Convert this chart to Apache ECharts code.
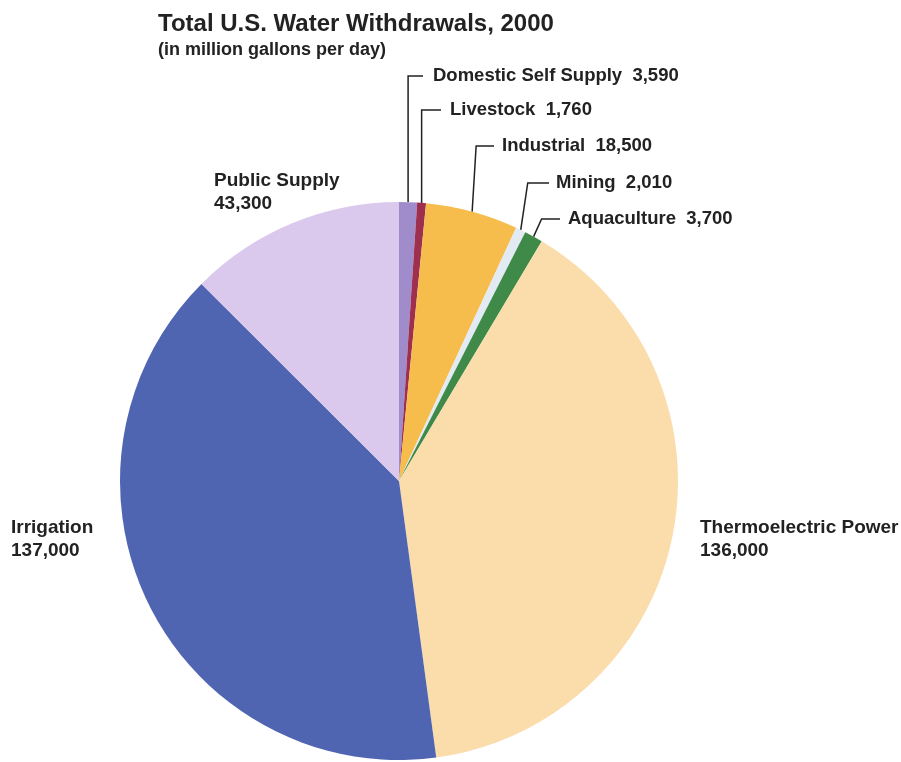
<!DOCTYPE html>
<html>
<head>
<meta charset="utf-8">
<script src="https://cdn.jsdelivr.net/npm/echarts@6/dist/echarts.min.js"></script>
<style>
  html, body { margin: 0; padding: 0; background: #ffffff; }
  #chart { width: 901px; height: 762px; }
</style>
</head>
<body>
<div id="chart"></div>
<script>
// Water withdrawal categories, clockwise from 12 o'clock
const categories = [
  'Domestic Self Supply', 'Livestock', 'Industrial', 'Mining',
  'Aquaculture', 'Thermoelectric Power', 'Irrigation', 'Public Supply'
];
// Million gallons per day
const withdrawals = [3590, 1760, 18500, 2010, 3700, 136000, 137000, 43300];

const sliceColors = {
  'Domestic Self Supply': '#a18ccb',
  'Livestock': '#9e2f4e',
  'Industrial': '#f6bd4d',
  'Mining': '#e2ebf4',
  'Aquaculture': '#3f8a49',
  'Thermoelectric Power': '#fbdcab',
  'Irrigation': '#5065b2',
  'Public Supply': '#dac8ed'
};

// Label placement: small slices get elbow leader lines, large ones sit beside the pie
const calloutLayout = {
  'Domestic Self Supply': { x: 433, y: 76, dx: 0, end: 423 },
  'Livestock':            { x: 450, y: 110, dx: 0, end: 441 },
  'Industrial':           { x: 502, y: 146, dx: 4, end: 494 },
  'Mining':               { x: 556, y: 183, dx: 7, end: 549 },
  'Aquaculture':          { x: 568, y: 219, dx: 8, end: 560 }
};
const blockLayout = {
  'Public Supply':        { x: 214, y: 169 },
  'Irrigation':           { x: 11, y: 516 },
  'Thermoelectric Power': { x: 700, y: 516 }
};

const FONT = 'Liberation Sans, Arial, Helvetica, sans-serif';
const fmt = v => v.toLocaleString('en-US');

const pieData = categories.map((name, i) => {
  const callout = !!calloutLayout[name];
  return {
    name: name,
    value: withdrawals[i],
    itemStyle: { color: sliceColors[name] },
    label: callout
      ? { formatter: name + '  ' + fmt(withdrawals[i]), fontSize: 18.5 }
      : { formatter: name + '\n' + fmt(withdrawals[i]), fontSize: 19 },
    labelLine: { show: callout }
  };
});

const chart = echarts.init(document.getElementById('chart'), null, { renderer: 'canvas' });

chart.setOption({
  backgroundColor: '#ffffff',
  animation: false,
  title: {
    text: 'Total U.S. Water Withdrawals, 2000',
    subtext: '(in million gallons per day)',
    left: 153,
    top: 7,
    itemGap: 5,
    textStyle: {
      fontFamily: FONT,
      fontSize: 24,
      fontWeight: 'bold',
      color: '#222222'
    },
    subtextStyle: {
      fontFamily: FONT,
      fontSize: 18,
      fontWeight: 'bold',
      color: '#222222'
    }
  },
  series: [{
    type: 'pie',
    center: [399, 481],
    radius: [0, 279],
    startAngle: 90,
    clockwise: true,
    avoidLabelOverlap: false,
    data: pieData,
    itemStyle: { borderWidth: 0 },
    label: {
      show: true,
      position: 'outside',
      fontFamily: FONT,
      fontSize: 18.5,
      fontWeight: 'bold',
      color: '#222222',
      lineHeight: 23
    },
    labelLine: {
      show: true,
      length: 10,
      length2: 10,
      lineStyle: { color: '#222222', width: 1.5 }
    },
    labelLayout: function (params) {
      const name = categories[params.dataIndex];
      const c = calloutLayout[name];
      if (c) {
        const p0 = params.labelLinePoints ? params.labelLinePoints[0] : [c.x, c.y];
        return {
          x: c.x,
          y: c.y,
          align: 'left',
          verticalAlign: 'middle',
          labelLinePoints: [p0, [p0[0] + c.dx, c.y], [c.end, c.y]]
        };
      }
      const b = blockLayout[name];
      return {
        x: b.x,
        y: b.y,
        align: 'left',
        verticalAlign: 'top'
      };
    }
  }]
});
</script>
</body>
</html>
